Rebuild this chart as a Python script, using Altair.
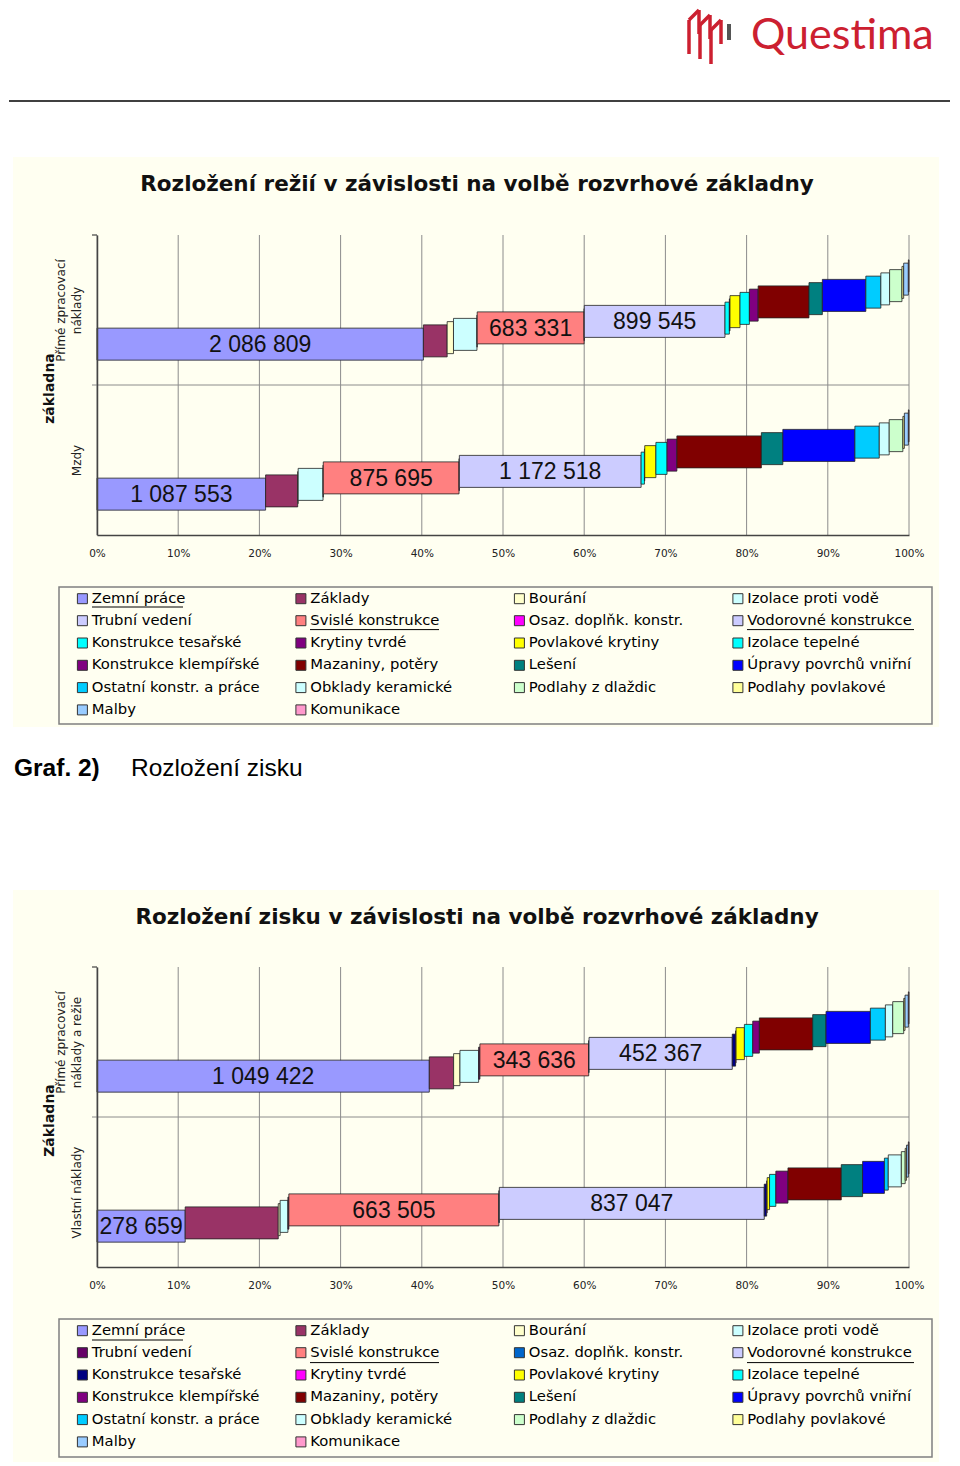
import json
import altair as alt
import pandas as pd

# ---------------- data ----------------
SERIES = ["Zemní práce", "Základy", "Bourání", "Izolace proti vodě",
          "Trubní vedení", "Svislé konstrukce", "Osaz. doplňk. konstr.", "Vodorovné konstrukce",
          "Konstrukce tesařské", "Krytiny tvrdé", "Povlakové krytiny", "Izolace tepelné",
          "Konstrukce klempířské", "Mazaniny, potěry", "Lešení", "Úpravy povrchů vniřní",
          "Ostatní konstr. a práce", "Obklady keramické", "Podlahy z dlaždic", "Podlahy povlakové",
          "Malby", "Komunikace"]
LABELED = ["Zemní práce", "Svislé konstrukce", "Vodorovné konstrukce"]

COLORS_1 = ["#9999FF", "#993366", "#FFFFCC", "#CCFFFF",
            "#CCCCFF", "#FF8080", "#FF00FF", "#CCCCFF",
            "#00FFFF", "#800080", "#FFFF00", "#00FFFF",
            "#800080", "#800000", "#008080", "#0000FF",
            "#00CCFF", "#CCFFFF", "#CCFFCC", "#FFFF99",
            "#99CCFF", "#FF99CC"]
COLORS_2 = ["#9999FF", "#993366", "#FFFFCC", "#CCFFFF",
            "#660066", "#FF8080", "#0066CC", "#CCCCFF",
            "#000080", "#FF00FF", "#FFFF00", "#00FFFF",
            "#800080", "#800000", "#008080", "#0000FF",
            "#00CCFF", "#CCFFFF", "#CCFFCC", "#FFFF99",
            "#99CCFF", "#FF99CC"]

TITLE_1 = "Rozložení režií v závislosti na volbě rozvrhové základny"
TITLE_2 = "Rozložení zisku v závislosti na volbě rozvrhové základny"
AXIS_TITLE_1 = "základna"
AXIS_TITLE_2 = "Základna"
ROW_TOP_1 = ["Přímé zpracovací", "náklady"]
ROW_BOT_1 = ["", "Mzdy"]
ROW_TOP_2 = ["Přímé zpracovací", "náklady a režie"]
ROW_BOT_2 = ["", "Vlastní náklady"]
CAPTION_NUM = "Graf. 2)"
CAPTION_TEXT = "Rozložení zisku"
BRAND = "Questima"

# chart 1, row "Přímé zpracovací náklady"
VALS_1_TOP = [2086809, 152000, 40500, 150000,
              1500, 683331, 1500, 899545,
              28000, 4000, 64000, 60000,
              56000, 325000, 85500, 278000,
              96000, 56000, 79000, 11000,
              30000, 4000]
# chart 1, row "Mzdy"
VALS_1_BOT = [1087553, 207000, 3000, 160500,
              1500, 875695, 2000, 1172518,
              21400, 2000, 71900, 71900,
              63400, 545000, 138500, 464800,
              157300, 64100, 88000, 9700,
              25900, 4000]
# chart 2, row "Přímé zpracovací náklady a režie"
VALS_2_TOP = [1049422, 76800, 20000, 59000,
              4000, 343636, 1000, 452367,
              10500, 1500, 26300, 26300,
              21000, 168400, 42100, 140000,
              47400, 23200, 34700, 4200,
              10500, 2000]
# chart 2, row "Vlastní náklady"
VALS_2_BOT = [278659, 294000, 6000, 24500,
              3000, 663505, 1500, 837047,
              7600, 1500, 7600, 19900,
              38300, 168400, 67400, 68900,
              12200, 41300, 12200, 4000,
              6000, 2000]

TICKS = [0, 0.1, 0.2, 0.3, 0.4, 0.5, 0.6, 0.7, 0.8, 0.9, 1.0]

# ---------------- style ----------------
W, H = 812, 300
STEP = 3.25 / 150.0     # vertical shift between consecutive series (data units)
HALF = 16.0 / 150.0     # half bar thickness (data units)
CREAM = "#FFFFF1"
FONT = "DejaVu Sans"
ONE = pd.DataFrame({"d": [0]})
OX, OY0 = 96, 8         # page position of the plot origin column / page top
# underlines of the labelled legend entries (page x from, x to, legend row)
UNDERLINES = [(91, 182, 0), (309, 438, 1), (746, 913, 1)]


def fmt(v):
    return "{:,}".format(v).replace(",", " ")


def build_df(top_vals, bot_vals):
    rows = []
    for r, vals in ((1, top_vals), (0, bot_vals)):
        total = float(sum(vals))
        cum = 0.0
        for i, (name, v) in enumerate(zip(SERIES, vals)):
            idx = i + 1
            x0 = cum / total
            cum += v
            x1 = cum / total
            yc = r + 0.5 + (idx - 11.5) * STEP
            rows.append(dict(series=name, value=v, order=idx, x0=x0, x1=x1,
                             xm=(x0 + x1) / 2, yc=yc, y0=yc - HALF, y1=yc + HALF,
                             label=fmt(v)))
    return pd.DataFrame(rows)


def panel(title, axis_title, top_lines, bot_lines, top_vals, bot_vals, colors,
          cream_top, cream_bot, legend_y, box_top, box_bot, title_y, row1_center):
    df = build_df(top_vals, bot_vals)
    label_expr = "datum.value > 1 ? %s : %s" % (
        json.dumps(top_lines, ensure_ascii=False), json.dumps(bot_lines, ensure_ascii=False))

    cream = alt.Chart(ONE).mark_rect(color=CREAM).encode(
        x=alt.value(-84), x2=alt.value(842), y=alt.value(cream_top), y2=alt.value(cream_bot))
    ext = alt.Chart(ONE).mark_rect(opacity=0).encode(
        x=alt.value(-88), x2=alt.value(-84), y=alt.value(cream_top), y2=alt.value(cream_top + 5))
    lbox = alt.Chart(ONE).mark_rect(fillOpacity=0, stroke="#808080", strokeWidth=1.5).encode(
        x=alt.value(-38), x2=alt.value(835), y=alt.value(box_top), y2=alt.value(box_bot))
    ttl = alt.Chart(ONE).mark_text(text=title, font=FONT, fontSize=21.5, fontWeight="bold",
                                   color="#111111", align="center", baseline="middle").encode(
        x=alt.value(380), y=alt.value(title_y))
    ulines = []
    for (a, b, row) in UNDERLINES:
        yy = row1_center + row * 22.6 + 8
        ulines.append(alt.Chart(ONE).mark_rule(color="#000000", strokeWidth=1).encode(
            x=alt.value(a - OX), x2=alt.value(b - OX), y=alt.value(yy), y2=alt.value(yy)))

    grid = alt.Chart(pd.DataFrame({"t": TICKS})).mark_rule(color="#8c8c8c", strokeWidth=1).encode(
        x=alt.X("t:Q"), y=alt.value(0), y2=alt.value(H))
    sep = alt.Chart(ONE).mark_rule(color="#8c8c8c", strokeWidth=1).encode(
        y=alt.datum(1), x=alt.value(-5), x2=alt.value(W))
    tick_top = alt.Chart(ONE).mark_rule(color="#444444", strokeWidth=1.2).encode(
        y=alt.datum(2), x=alt.value(-5), x2=alt.value(0))

    bars = alt.Chart(df).mark_rect(stroke="#222222", strokeWidth=0.8).encode(
        x=alt.X("x0:Q", scale=alt.Scale(domain=[0, 1], nice=False, zero=False),
                axis=alt.Axis(values=TICKS, format=".0%", labelFont=FONT, labelFontSize=10.5,
                              labelColor="#222222", labelPadding=13, ticks=False, domain=True,
                              domainColor="#444444", domainWidth=1.5, grid=False, title=None,
                              zindex=1, labelFlush=False, labelOverlap=False)),
        x2="x1:Q",
        y=alt.Y("y0:Q", scale=alt.Scale(domain=[0, 2], nice=False, zero=False),
                axis=alt.Axis(values=[0.5, 1.5], labelExpr=label_expr, labelAngle=270,
                              labelAlign="center", labelBaseline="bottom", labelPadding=30,
                              labelFont=FONT, labelFontSize=12, labelColor="#222222",
                              labelLineHeight=16, ticks=False, domain=True,
                              domainColor="#444444", domainWidth=1.5, grid=False,
                              title=axis_title, titleAngle=270, titleX=-48, titleY=153,
                              titleAlign="center", titleBaseline="middle", titleFont=FONT,
                              titleFontSize=14, titleFontWeight="bold", titleColor="#111111",
                              zindex=1, labelOverlap=False)),
        y2="y1:Q",
        color=alt.Color("series:N", scale=alt.Scale(domain=SERIES, range=colors),
                        legend=alt.Legend(orient="none", legendX=-22, legendY=legend_y,
                                          direction="horizontal",
                                          columns=4, title=None, symbolType="square",
                                          symbolSize=100, symbolStrokeColor="#333333",
                                          symbolStrokeWidth=1, labelFont=FONT,
                                          labelFontSize=14.8, labelColor="#000000",
                                          labelOffset=2, columnPadding=33.5, rowPadding=6.3,
                                          gridAlign="all", padding=0, labelLimit=400)),
        order=alt.Order("order:Q"),
    )
    labels = alt.Chart(df).transform_filter(
        alt.FieldOneOfPredicate(field="series", oneOf=LABELED)
    ).mark_text(font="Liberation Sans", fontSize=23, color="#111111", baseline="middle", dy=1).encode(
        x="xm:Q", y="yc:Q", text="label:N")

    return alt.layer(cream, ext, lbox, ttl, *ulines, grid, sep, tick_top, bars, labels).properties(
        width=W, height=H)


# ---------------- header (plot origin at page x 96, y 8) ----------------
LOGO_RED = "#CC2030"
logo_segments = []
for k in range(3):
    x0 = 688 + 11 * k
    y0 = 8 + 5 * k
    logo_segments += [(x0, y0 + 10, x0, y0 + 44), (x0, y0 + 10, x0 + 10, y0),
                      (x0 + 10, y0, x0 + 10, y0 + 24)]

header_layers = [
    alt.Chart(ONE).mark_rule(color="#000000", strokeWidth=1.5).encode(
        x=alt.value(-88), x2=alt.value(853), y=alt.value(91), y2=alt.value(91)),
    alt.Chart(ONE).mark_text(text=BRAND, font="Lato", fontSize=43, color=LOGO_RED,
                             align="left", baseline="alphabetic").encode(
        x=alt.value(750 - OX), y=alt.value(47 - OY0)),
    alt.Chart(ONE).mark_rule(color="#555555", strokeWidth=4).encode(
        x=alt.value(728 - OX), x2=alt.value(728 - OX), y=alt.value(22 - OY0), y2=alt.value(38 - OY0)),
]
for (a, b, c, d) in logo_segments:
    header_layers.append(alt.Chart(ONE).mark_rule(color=LOGO_RED, strokeWidth=3.5).encode(
        x=alt.value(a - OX), x2=alt.value(c - OX), y=alt.value(b - OY0), y2=alt.value(d - OY0)))
header = alt.layer(*header_layers).properties(width=W, height=147)

# ---------------- middle caption (cell top at page y 725) ----------------
mid = alt.layer(
    alt.Chart(ONE).mark_text(text=CAPTION_NUM, font="Liberation Sans", fontSize=24.5,
                             fontWeight="bold", color="#000000", align="left",
                             baseline="middle").encode(x=alt.value(13 - OX), y=alt.value(42)),
    alt.Chart(ONE).mark_text(text=CAPTION_TEXT, font="Liberation Sans", fontSize=24.5,
                             color="#000000", align="left",
                             baseline="middle").encode(x=alt.value(130 - OX), y=alt.value(42)),
).properties(width=W, height=163)

chart1 = panel(TITLE_1, AXIS_TITLE_1, ROW_TOP_1, ROW_BOT_1, VALS_1_TOP, VALS_1_BOT, COLORS_1,
               cream_top=-78, cream_bot=492, legend_y=356, box_top=352, box_bot=489,
               title_y=-50, row1_center=597 - 233)
chart2 = panel(TITLE_2, AXIS_TITLE_2, ROW_TOP_2, ROW_BOT_2, VALS_2_TOP, VALS_2_BOT, COLORS_2,
               cream_top=-77, cream_bot=495, legend_y=356, box_top=352, box_bot=490,
               title_y=-49, row1_center=1330 - 965)

chart = alt.vconcat(header, chart1, mid, chart2, spacing=0).resolve_scale(
    x="independent", y="independent", color="independent"
).properties(padding=0, background="white").configure_view(strokeWidth=0)

chart.save("out.html", embed_options={"renderer": "svg", "actions": False})
